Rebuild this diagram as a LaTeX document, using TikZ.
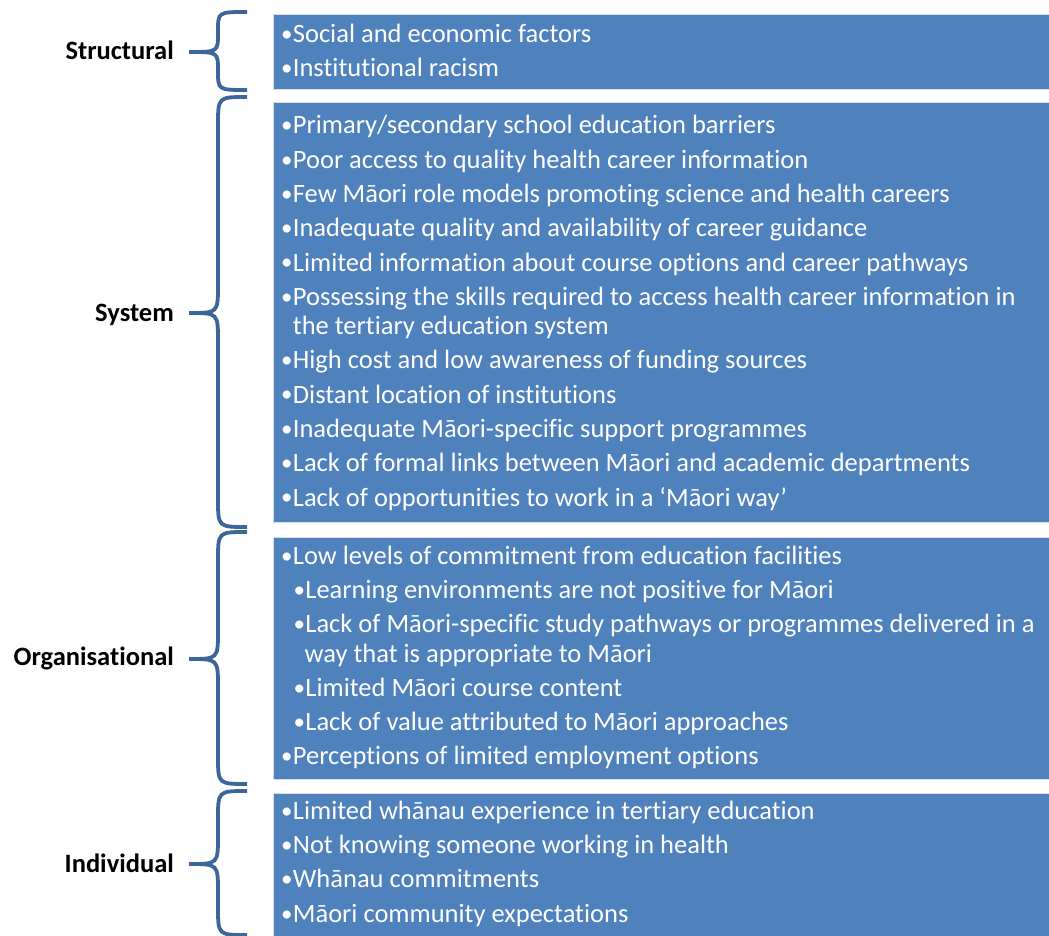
\documentclass[tikz,border=0pt]{standalone}
\usepackage{fontspec}
\setmainfont{Carlito}[RawFeature=-liga, RawFeature=-clig, RawFeature=-rlig, RawFeature=-calt, RawFeature=-dlig]
\usepackage{tikz}

\definecolor{boxblue}{HTML}{4F81BD}
\definecolor{braceblue}{HTML}{3C6699}

\tikzset{
  levelbox/.style={fill=boxblue, draw=white!75!boxblue, line width=0.8pt},
  item/.style={anchor=base west, inner sep=0pt, text=white, font=\fontsize{26.5}{30}\selectfont},
  levellabel/.style={anchor=base east, inner sep=0pt, font=\fontsize{26.5}{30}\selectfont\bfseries},
  bracestyle/.style={draw=braceblue, line width=3.8pt}
}

% bullet
\newcommand{\bul}{\makebox[12.7pt][l]{\hspace{0.8pt}\raisebox{1.2pt}{\fontsize{23}{23}\selectfont•}}}

% brace: top, tip, bottom, radius
\newcommand{\levelbrace}[4]{%
  \draw[bracestyle] (247,#1) .. controls (218,#1) .. (218,#1+#4) -- (218,#2-#4)
    .. controls (218,#2) .. (189,#2) .. controls (218,#2) .. (218,#2+#4)
    -- (218,#3-#4) .. controls (218,#3) .. (247,#3);}

\begin{document}
\begin{tikzpicture}[x=1pt,y=-1pt]
\useasboundingbox (0,0) rectangle (1049,936);

%Cajas
\draw[levelbox] (273,14.7) rectangle (1052,89.3);
\draw[levelbox] (273,102.3) rectangle (1052,522.5);
\draw[levelbox] (273,537) rectangle (1052,779);
\draw[levelbox] (273,793.3) rectangle (1052,940);

%Llaves
\levelbrace{12}{52}{90}{19}
\levelbrace{97}{313}{527}{28}
\levelbrace{532}{659}{784}{28}
\levelbrace{791}{864}{935}{28}

%Niveles
\node[levellabel] (structural) at (174,60) {Structural};
\node[levellabel] (system) at (174,321) {System};
\node[levellabel] (organisational) at (174,665) {Organisational};
\node[levellabel] (individual) at (174,872) {Individual};

%Structural
\node[item] (s1) at (280,43) {\bul Social and economic factors};
\node[item] (s2) at (280,77) {\bul Institutional racism};

%System
\node[item] (y1) at (280,134) {\bul Primary/secondary school education barriers};
\node[item] (y2) at (280,168.3) {\bul Poor access to quality health career information};
\node[item] (y3) at (280,202.6) {\bul Few Māori role models promoting science and health careers};
\node[item] (y4) at (280,236.9) {\bul Inadequate quality and availability of career guidance};
\node[item] (y5) at (280,271.2) {\bul Limited information about course options and career pathways};
\node[item] (y6) at (280,305.5) {\bul Possessing the skills required to access health career information in};
\node[item] (y6b) at (292.7,334.5) {the tertiary education system};
\node[item] (y7) at (280,368.8) {\bul High cost and low awareness of funding sources};
\node[item] (y8) at (280,403.1) {\bul Distant location of institutions};
\node[item] (y9) at (280,437.4) {\bul Inadequate Māori-specific support programmes};
\node[item] (y10) at (280,471.7) {\bul Lack of formal links between Māori and academic departments};
\node[item] (y11) at (280,506) {\bul Lack of opportunities to work in a ‘Māori way’};

%Organisational
\node[item] (o1) at (280,564.3) {\bul Low levels of commitment from education facilities};
\node[item] (o2) at (292.5,598.4) {\bul Learning environments are not positive for Māori};
\node[item] (o3) at (292.5,632.5) {\bul Lack of Māori-specific study pathways or programmes delivered in a};
\node[item] (o3b) at (304.5,662.5) {way that is appropriate to Māori};
\node[item] (o4) at (292.5,696.7) {\bul Limited Māori course content};
\node[item] (o5) at (292.5,730.8) {\bul Lack of value attributed to Māori approaches};
\node[item] (o6) at (280,764.5) {\bul Perceptions of limited employment options};

%Individual
\node[item] (i1) at (280,819.3) {\bul Limited whānau experience in tertiary education};
\node[item] (i2) at (280,853.6) {\bul Not knowing someone working in health};
\node[item] (i3) at (280,887.9) {\bul Whānau commitments};
\node[item] (i4) at (280,922.2) {\bul Māori community expectations};
\end{tikzpicture}
\end{document}
